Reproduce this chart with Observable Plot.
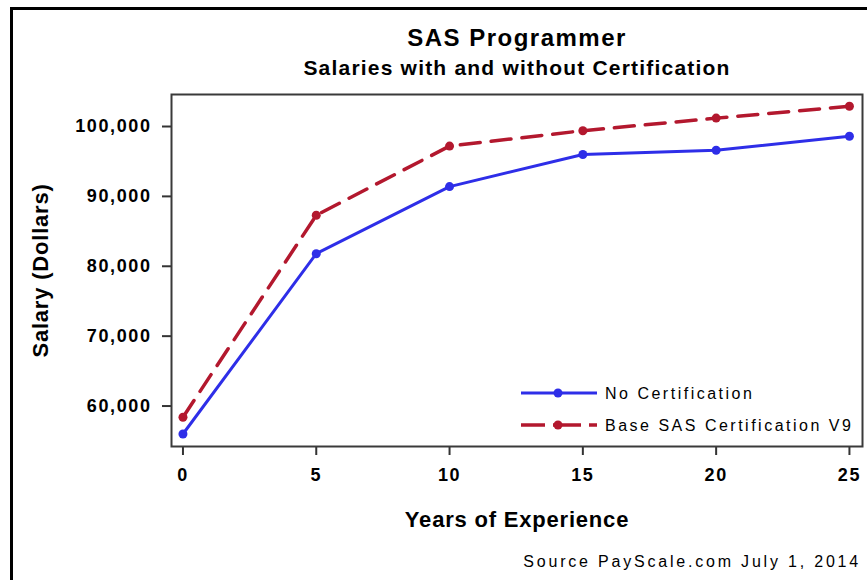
<!DOCTYPE html>
<html>
<head>
<meta charset="utf-8">
<script src="https://cdn.jsdelivr.net/npm/d3@7"></script>
<script src="https://cdn.jsdelivr.net/npm/@observablehq/plot@0.6"></script>
<style>
  html, body { margin: 0; padding: 0; background: #fff; overflow: hidden; }
  body { width: 867px; height: 580px; position: relative; font-family: "Liberation Sans", Arial, sans-serif; }
  #chart { position: absolute; left: 0; top: 0; }
  #border { position: absolute; left: 10px; top: 7px; width: 900px; height: 620px; border: 3px solid #000; box-sizing: border-box; pointer-events: none; z-index: 5; }
  .t { position: absolute; white-space: nowrap; color: #000; }
  #title { left: 0; width: 1034px; text-align: center; top: 25.7px; font-size: 24px; line-height: 24px; font-weight: bold; letter-spacing: 1.5px; }
  #subtitle { left: 0; width: 1034px; text-align: center; top: 57.2px; font-size: 21px; line-height: 21px; font-weight: bold; letter-spacing: 1.2px; }
  #caption { right: 6px; top: 553.5px; font-size: 16px; line-height: 16px; letter-spacing: 2.8px; }
  .leg { left: 605px; font-size: 16px; line-height: 16px; letter-spacing: 2.5px; }
  #legsvg { position: absolute; left: 0; top: 0; pointer-events: none; }
  svg [aria-label="y-axis tick label"] text, svg [aria-label="x-axis tick label"] text { letter-spacing: 1.6px; }
  svg g[aria-label="y-axis label"], svg g[aria-label="x-axis label"] { font-size: 22px; letter-spacing: 0.8px; }
</style>
</head>
<body>
<div id="chart"></div>
<div id="title" class="t"></div>
<div id="subtitle" class="t"></div>
<div id="caption" class="t"></div>
<div id="leg1" class="t leg" style="top:385.5px"></div>
<div id="leg2" class="t leg" style="top:417.5px"></div>
<div id="border"></div>
<script>
// ---- data ----
const years = [0, 5, 10, 15, 20, 25];
const noCertification = [56000, 81800, 91400, 96000, 96600, 98600];
const baseSasCertification = [58400, 87300, 97200, 99400, 101200, 102900];
const seriesNames = ["No Certification", "Base SAS Certification V9"];
const xTicks = [0, 5, 10, 15, 20, 25];
const yTicks = [60000, 70000, 80000, 90000, 100000];
const titleText = "SAS Programmer";
const subtitleText = "Salaries with and without Certification";
const captionText = "Source PayScale.com July 1, 2014";
const xLabel = "Years of Experience";
const yLabel = "Salary (Dollars)";

const blue = "#2e2ee8";
const red = "#b3182e";

const rowsNo = years.map((yr, i) => ({year: yr, salary: noCertification[i], series: seriesNames[0]}));
const rowsCert = years.map((yr, i) => ({year: yr, salary: baseSasCertification[i], series: seriesNames[1]}));

const chart = Plot.plot({
  width: 867,
  height: 580,
  marginLeft: 171,
  marginRight: 5,
  marginTop: 94,
  marginBottom: 134,
  style: {fontFamily: "'Liberation Sans', Arial, sans-serif", background: "transparent", overflow: "visible"},
  x: {domain: [-0.43, 25.49]},
  y: {domain: [54210, 104580]},
  marks: [
    Plot.axisX({ticks: xTicks, tickFormat: d => String(d), tickSize: 9, tickPadding: 13, fontSize: 18, fontWeight: "bold",
      stroke: "#333", strokeWidth: 2, fill: "#000",
      label: xLabel, labelArrow: "none", labelAnchor: "center", labelOffset: 80}),
    Plot.axisY({ticks: yTicks, tickFormat: d3.format(","), tickSize: 9, tickPadding: 11, fontSize: 18, fontWeight: "bold",
      stroke: "#333", strokeWidth: 2, fill: "#000",
      label: yLabel, labelArrow: "none", labelAnchor: "center", labelOffset: 139}),
    Plot.line(rowsNo, {x: "year", y: "salary", stroke: blue, strokeWidth: 3}),
    Plot.dot(rowsNo, {x: "year", y: "salary", r: 4.5, fill: blue}),
    Plot.line(rowsCert, {x: "year", y: "salary", stroke: red, strokeWidth: 3.5, strokeDasharray: "20,11"}),
    Plot.dot(rowsCert, {x: "year", y: "salary", r: 4.5, fill: red}),
    Plot.frame({stroke: "#3a3a3a", strokeWidth: 2})
  ]
});
document.getElementById("chart").appendChild(chart);

// strip any axis-label arrow that an older Plot build might still add
chart.querySelectorAll('g[aria-label$="axis label"] text').forEach(t => {
  t.textContent = t.textContent.replace(/\s*[\u2191\u2193\u2190\u2192]\s*/g, "").trim();
});

document.getElementById("title").textContent = titleText;
document.getElementById("subtitle").textContent = subtitleText;
document.getElementById("caption").textContent = captionText;
document.getElementById("leg1").textContent = seriesNames[0];
document.getElementById("leg2").textContent = seriesNames[1];

// legend samples
const ns = "http://www.w3.org/2000/svg";
const lsvg = document.createElementNS(ns, "svg");
lsvg.setAttribute("id", "legsvg");
lsvg.setAttribute("width", 867);
lsvg.setAttribute("height", 580);
function add(tag, attrs) {
  const el = document.createElementNS(ns, tag);
  for (const k in attrs) el.setAttribute(k, attrs[k]);
  lsvg.appendChild(el);
}
add("line", {x1: 521, x2: 597, y1: 393, y2: 393, stroke: blue, "stroke-width": 3});
add("circle", {cx: 558, cy: 393, r: 4.5, fill: blue});
add("line", {x1: 521, x2: 597, y1: 425, y2: 425, stroke: red, "stroke-width": 3.5, "stroke-dasharray": "24,8,28,8"});
add("circle", {cx: 558, cy: 425, r: 4.5, fill: red});
document.body.appendChild(lsvg);
</script>
</body>
</html>
